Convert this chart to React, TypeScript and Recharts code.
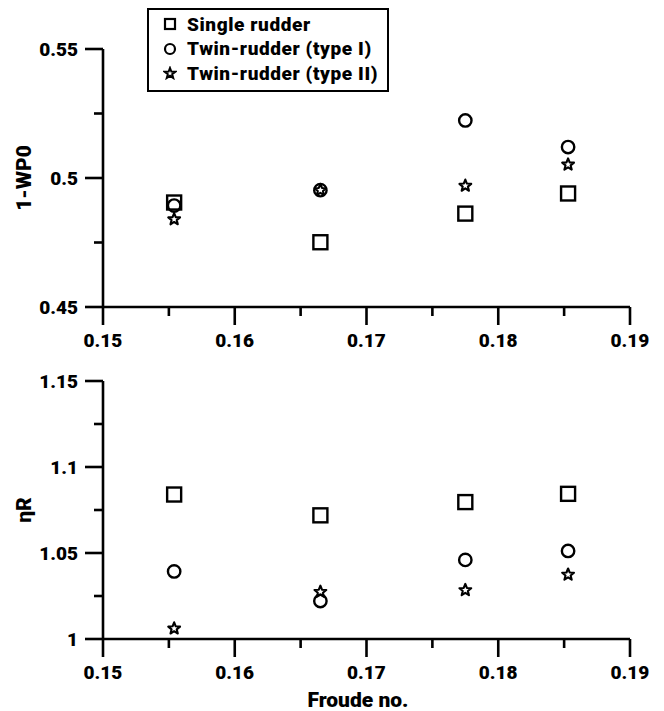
import React from 'react';
import { ScatterChart, Scatter, XAxis, YAxis } from 'recharts';

// Froude numbers shared by both panels
const froude = [0.1554, 0.1665, 0.1775, 0.1853];

// top panel: 1-wP0
const wakeSingle = [0.4905, 0.4751, 0.4862, 0.494];
const wakeTwinI = [0.4893, 0.4953, 0.5223, 0.512];
const wakeTwinII = [0.484, 0.4953, 0.497, 0.5052];

// bottom panel: etaR
const etaSingle = [1.084, 1.0719, 1.0796, 1.0844];
const etaTwinI = [1.0393, 1.0221, 1.046, 1.0512];
const etaTwinII = [1.0061, 1.0274, 1.0284, 1.0374];

const xTicks = [0.15, 0.155, 0.16, 0.165, 0.17, 0.175, 0.18, 0.185, 0.19];
const wakeTicks = [0.45, 0.475, 0.5, 0.525, 0.55];
const etaTicks = [1, 1.025, 1.05, 1.075, 1.1, 1.125, 1.15];

const seriesNames = ['Single rudder', 'Twin-rudder (type I)', 'Twin-rudder (type II)'];

const FONT = 'Roboto, "Liberation Sans", Arial, sans-serif';
const WEIGHT = 900;

const toPoints = (ys: number[]) => froude.map((x, i) => ({ x, y: ys[i] }));
const fmt = (v: number) => String(Number(v.toFixed(3)));

const Square = ({ cx, cy }: any) => (
  <rect x={cx - 7} y={cy - 7} width={14} height={14} fill="none" stroke="#000" strokeWidth={2.4} />
);

const Ring = ({ cx, cy }: any) => (
  <circle cx={cx} cy={cy} r={6.2} fill="none" stroke="#000" strokeWidth={2.4} />
);

const starPath = (cx: number, cy: number, ro: number, ri: number) => {
  let d = '';
  for (let k = 0; k < 10; k++) {
    const r = k % 2 === 0 ? ro : ri;
    const a = -Math.PI / 2 + (k * Math.PI) / 5;
    d += (k === 0 ? 'M' : 'L') + (cx + r * Math.cos(a)).toFixed(2) + ',' + (cy + r * Math.sin(a)).toFixed(2);
  }
  return d + 'Z';
};

const Star = ({ cx, cy }: any) => (
  <path d={starPath(cx, cy, 6.2, 2.7)} fill="none" stroke="#000" strokeWidth={2.1} strokeLinejoin="round" />
);

const XTick = ({ x, y, payload, index }: any) => {
  const major = index % 2 === 0;
  return (
    <g>
      <line x1={x} y1={y} x2={x} y2={y + (major ? 18 : 9)} stroke="#000" strokeWidth={2.6} />
      {major && (
        <text x={x} y={y + 40} textAnchor="middle" fontSize={19} fontWeight={WEIGHT} fontFamily={FONT} fill="#000">
          {fmt(payload.value)}
        </text>
      )}
    </g>
  );
};

const YTick = ({ x, y, payload, index }: any) => {
  const major = index % 2 === 0;
  return (
    <g>
      <line x1={x - (major ? 18 : 9)} y1={y} x2={x} y2={y} stroke="#000" strokeWidth={2.6} />
      {major && (
        <text x={x - 25} y={y + 7} textAnchor="end" fontSize={19} fontWeight={WEIGHT} fontFamily={FONT} fill="#000">
          {fmt(payload.value)}
        </text>
      )}
    </g>
  );
};

const yTitle = (text: string) => (props: any) => {
  const vb = props.viewBox || { y: 0, height: 0 };
  const cy = vb.y + vb.height / 2;
  return (
    <text
      x={24}
      y={cy}
      transform={`rotate(-90 24 ${cy})`}
      textAnchor="middle"
      dominantBaseline="central"
      fontSize={21}
      fontWeight={WEIGHT}
      fontFamily={FONT}
      fill="#000"
    >
      {text}
    </text>
  );
};

const xTitle = (props: any) => {
  const vb = props.viewBox || { y: 0, height: 0 };
  return (
    <text x={358} y={vb.y + 61} textAnchor="middle" dominantBaseline="central" fontSize={21} fontWeight={WEIGHT} fontFamily={FONT} fill="#000">
      Froude no.
    </text>
  );
};

const axisLine = { stroke: '#000', strokeWidth: 2.6 };

const Panel = ({
  height,
  top,
  xHeight,
  yDomain,
  yTicks,
  title,
  series,
  showXTitle,
}: {
  height: number;
  top: number;
  xHeight: number;
  yDomain: [number, number];
  yTicks: number[];
  title: string;
  series: number[][];
  showXTitle?: boolean;
}) => {
  const shapes = [Square, Ring, Star];
  return (
    <ScatterChart width={664} height={height} margin={{ top, right: 34, bottom: 0, left: 0 }}>
      <XAxis
        type="number"
        dataKey="x"
        domain={[0.15, 0.19]}
        ticks={xTicks}
        interval={0}
        height={xHeight}
        tickSize={0}
        tickMargin={0}
        tickLine={false}
        axisLine={axisLine}
        tick={(p: any) => <XTick {...p} />}
        label={showXTitle ? { content: xTitle } : undefined}
        allowDataOverflow
      />
      <YAxis
        type="number"
        dataKey="y"
        domain={yDomain}
        ticks={yTicks}
        interval={0}
        width={103}
        tickSize={0}
        tickMargin={0}
        tickLine={false}
        axisLine={axisLine}
        tick={(p: any) => <YTick {...p} />}
        label={{ content: yTitle(title) }}
        allowDataOverflow
      />
      {series.map((ys, i) => (
        <Scatter
          key={seriesNames[i]}
          name={seriesNames[i]}
          data={toPoints(ys)}
          shape={shapes[i]}
          isAnimationActive={false}
        />
      ))}
    </ScatterChart>
  );
};

const LegendBox = () => {
  const icons = [
    <rect key="s" x={2} y={2} width={10} height={10} fill="none" stroke="#000" strokeWidth={2.2} />,
    <circle key="c" cx={7} cy={7} r={5} fill="none" stroke="#000" strokeWidth={2.2} />,
    <path key="t" d={starPath(7, 7.5, 5.5, 2.3)} fill="none" stroke="#000" strokeWidth={2} />,
  ];
  return (
    <div
      style={{
        position: 'absolute',
        left: 147,
        top: 8,
        width: 242,
        height: 84,
        boxSizing: 'border-box',
        border: '2px solid #000',
        background: '#fff',
        fontFamily: FONT,
        fontWeight: WEIGHT,
        fontSize: 19,
        letterSpacing: 0.6,
        color: '#000',
      }}
    >
      {seriesNames.map((name, i) => (
        <div
          key={name}
          style={{ position: 'absolute', left: 0, top: 2 + i * 24.5, height: 24, display: 'flex', alignItems: 'center', whiteSpace: 'nowrap' }}
        >
          <svg width={14} height={14} style={{ marginLeft: 14, marginRight: 10 }}>
            {icons[i]}
          </svg>
          <span>{name}</span>
        </div>
      ))}
    </div>
  );
};

export default function App() {
  return (
    <div style={{ position: 'absolute', left: 0, top: 0, width: 664, height: 711, background: '#fff', overflow: 'hidden' }}>
      <div style={{ position: 'absolute', left: 0, top: 0 }}>
        <Panel
          height={360}
          top={49}
          xHeight={53}
          yDomain={[0.45, 0.55]}
          yTicks={wakeTicks}
          title="1-WP0"
          series={[wakeSingle, wakeTwinI, wakeTwinII]}
        />
      </div>
      <div style={{ position: 'absolute', left: 0, top: 340 }}>
        <Panel
          height={371}
          top={41}
          xHeight={72}
          yDomain={[1, 1.15]}
          yTicks={etaTicks}
          title="ηR"
          series={[etaSingle, etaTwinI, etaTwinII]}
          showXTitle
        />
      </div>
      <LegendBox />
    </div>
  );
}
